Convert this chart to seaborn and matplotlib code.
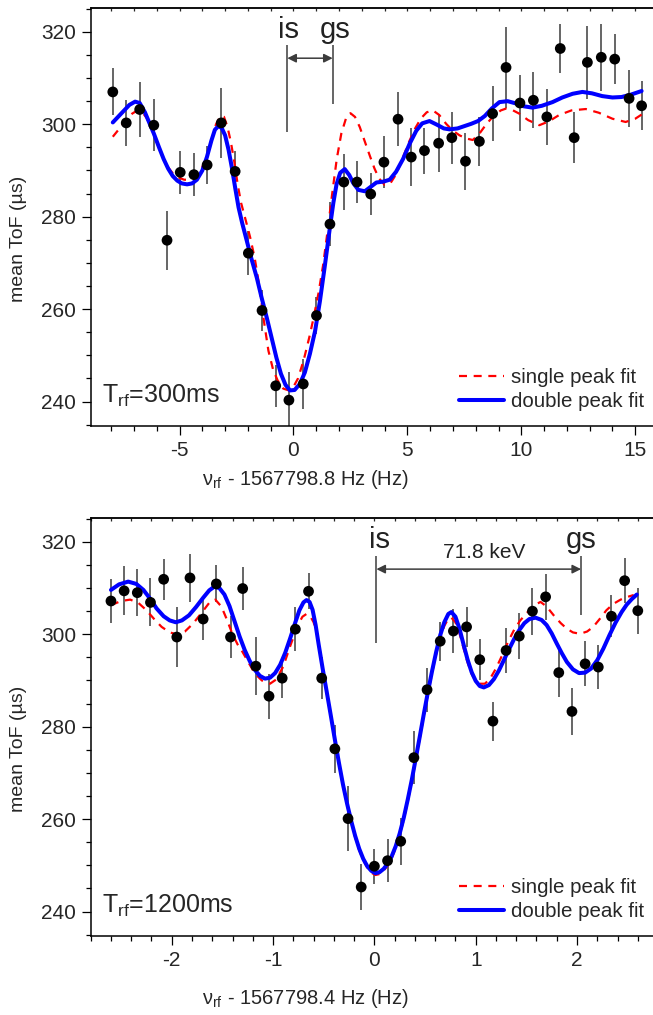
import numpy as np
import pandas as pd
import matplotlib
matplotlib.use("Agg")
import matplotlib.pyplot as plt
from matplotlib.ticker import MultipleLocator
from matplotlib.lines import Line2D
import seaborn as sns

# ---------------- data: top panel (T_rf = 300 ms) ----------------
top_x = [-7.93, -7.34, -6.75, -6.13, -5.55, -4.97, -4.37, -3.79, -3.17, -2.56,
         -1.98, -1.38, -0.78, -0.20, 0.43, 1.01, 1.60, 2.21, 2.79, 3.39,
         3.97, 4.59, 5.17, 5.75, 6.37, 6.95, 7.55, 8.16, 8.74, 9.33,
         9.94, 10.53, 11.12, 11.71, 12.32, 12.90, 13.51, 14.10, 14.73, 15.28]
top_y = [307.0, 300.3, 303.2, 299.8, 274.9, 289.6, 289.1, 291.2, 300.3, 289.8,
         272.1, 259.7, 243.4, 240.3, 243.8, 258.6, 278.4, 287.5, 287.5, 284.9,
         291.8, 301.1, 292.9, 294.3, 295.9, 297.1, 292.0, 296.3, 302.3, 312.3,
         304.6, 305.2, 301.6, 316.4, 297.1, 313.4, 314.5, 314.1, 305.6, 304.0]
top_err = [5.1, 5.0, 5.9, 5.6, 6.4, 4.6, 4.6, 4.2, 7.5, 4.4,
           4.7, 4.5, 4.6, 6.0, 5.4, 4.0, 4.7, 6.0, 4.5, 4.5,
           5.6, 5.8, 6.2, 5.0, 6.3, 5.6, 6.2, 5.3, 5.9, 8.8,
           6.1, 6.1, 6.1, 5.3, 5.5, 7.9, 7.2, 5.4, 6.1, 5.3]

top_double_x = [-7.93, -7.70, -7.45, -7.20, -6.95, -6.75, -6.52, -6.30, -6.13, -5.90,
                -5.70, -5.50, -5.30, -5.10, -4.90, -4.67, -4.45, -4.24, -4.00, -3.80,
                -3.60, -3.45, -3.30, -3.15, -3.00, -2.85, -2.70, -2.55, -2.41, -2.25,
                -2.05, -1.85, -1.61, -1.40, -1.17, -0.95, -0.75, -0.55, -0.35, -0.15,
                0.05, 0.28, 0.50, 0.72, 0.95, 1.16, 1.38, 1.60, 1.75, 1.89,
                2.05, 2.25, 2.45, 2.62, 2.85, 3.13, 3.40, 3.64, 3.95, 4.22,
                4.50, 4.81, 5.10, 5.39, 5.65, 5.97, 6.30, 6.60, 6.85, 7.20,
                7.50, 7.80, 8.10, 8.40, 8.70, 9.04, 9.40, 9.77, 10.10, 10.49,
                10.90, 11.37, 11.80, 12.25, 12.68, 13.10, 13.55, 14.00, 14.40, 14.80,
                15.28]
top_double_y = [300.4, 301.6, 302.9, 304.2, 304.9, 304.6, 302.6, 300.0, 298.0, 295.0,
                292.5, 290.4, 288.8, 287.8, 287.2, 287.0, 287.2, 288.0, 290.0, 292.9,
                296.5, 298.8, 299.6, 299.2, 297.6, 294.5, 290.5, 286.0, 282.0, 278.6,
                274.8, 271.0, 266.8, 262.5, 258.1, 253.6, 249.5, 246.0, 243.6, 242.4,
                242.5, 243.8, 246.3, 250.3, 255.3, 261.7, 269.5, 277.7, 283.0, 287.0,
                289.5, 290.3, 289.0, 287.3, 285.8, 285.5, 286.5, 287.4, 287.6, 288.0,
                289.7, 292.5, 295.8, 298.6, 300.2, 300.7, 299.9, 299.1, 298.9, 299.1,
                299.6, 300.1, 300.7, 301.8, 303.4, 304.8, 305.0, 304.5, 303.9, 303.6,
                304.0, 304.8, 305.8, 306.6, 307.0, 306.7, 306.1, 305.8, 305.9, 306.4,
                307.2]

top_single_x = [-7.93, -7.70, -7.50, -7.28, -7.08, -6.85, -6.65, -6.45, -6.25, -6.05,
                -5.80, -5.55, -5.30, -5.05, -4.80, -4.55, -4.30, -4.05, -3.80, -3.60,
                -3.40, -3.20, -3.05, -2.90, -2.75, -2.60, -2.45, -2.30, -2.10, -1.90,
                -1.70, -1.50, -1.30, -1.10, -0.90, -0.70, -0.45, -0.20, 0.00, 0.20,
                0.45, 0.70, 0.90, 1.10, 1.30, 1.50, 1.70, 1.90, 2.10, 2.30,
                2.50, 2.70, 2.91, 3.15, 3.35, 3.55, 3.75, 4.00, 4.25, 4.52,
                4.80, 5.10, 5.35, 5.60, 5.85, 6.12, 6.40, 6.70, 7.00, 7.29,
                7.60, 7.87, 8.15, 8.46, 8.80, 9.10, 9.33, 9.60, 9.91, 10.30,
                10.79, 11.20, 11.66, 12.20, 12.83, 13.40, 14.00, 14.58, 15.00, 15.28]
top_single_y = [297.3, 298.7, 300.0, 301.3, 302.3, 303.0, 302.7, 301.4, 299.4, 296.8,
                293.6, 291.0, 289.4, 288.5, 288.0, 288.0, 288.6, 290.2, 293.0, 296.5,
                300.0, 301.8, 301.6, 299.5, 296.2, 292.0, 287.0, 283.0, 279.3, 275.5,
                271.0, 265.0, 257.5, 251.0, 247.0, 244.6, 242.8, 242.4, 243.2, 245.0,
                249.0, 254.0, 258.5, 263.5, 269.5, 277.0, 285.0, 292.5, 298.0, 301.2,
                302.4, 301.6, 299.4, 296.0, 293.2, 290.5, 288.3, 286.9, 287.2, 289.3,
                292.8, 296.5, 299.2, 301.3, 302.6, 303.0, 302.0, 300.1, 298.6, 297.6,
                296.9, 296.6, 297.9, 300.0, 301.9, 303.0, 303.4, 303.1, 302.3, 300.9,
                299.8, 300.6, 302.0, 303.0, 303.3, 302.5, 301.2, 300.5, 301.2, 302.1]

# ---------------- data: bottom panel (T_rf = 1200 ms) ----------------
bot_x = [-2.60, -2.47, -2.34, -2.21, -2.08, -1.95, -1.82, -1.69, -1.56, -1.42,
         -1.30, -1.17, -1.04, -0.91, -0.78, -0.65, -0.52, -0.39, -0.26, -0.13,
         0.00, 0.13, 0.26, 0.39, 0.52, 0.65, 0.78, 0.91, 1.04, 1.17,
         1.30, 1.43, 1.56, 1.69, 1.82, 1.95, 2.08, 2.21, 2.34, 2.47, 2.60]
bot_y = [307.2, 309.4, 309.0, 306.9, 311.9, 299.4, 312.2, 303.3, 310.9, 299.4,
         309.9, 293.1, 286.6, 290.5, 301.1, 309.3, 290.5, 275.2, 260.1, 245.3,
         249.8, 251.0, 255.2, 273.3, 288.0, 298.5, 300.7, 301.6, 294.5, 281.2,
         296.5, 299.6, 305.0, 308.1, 291.7, 283.3, 293.6, 292.9, 303.9, 311.6, 305.1]
bot_err = [4.8, 5.3, 5.1, 5.2, 4.4, 6.4, 5.2, 4.6, 4.0, 4.5,
           4.7, 6.3, 4.9, 4.2, 4.8, 3.9, 4.5, 5.2, 7.0, 5.0,
           3.8, 4.7, 5.1, 5.7, 4.8, 4.2, 4.7, 4.4, 4.4, 4.2,
           4.8, 4.9, 5.1, 5.0, 5.3, 5.1, 4.9, 4.8, 4.5, 4.8, 5.0]

bot_double_x = [-2.60, -2.52, -2.43, -2.35, -2.28, -2.21, -2.15, -2.08, -2.02, -1.96,
                -1.90, -1.83, -1.76, -1.69, -1.63, -1.58, -1.53, -1.48, -1.43, -1.38,
                -1.33, -1.28, -1.23, -1.18, -1.13, -1.08, -1.03, -0.98, -0.93, -0.88,
                -0.83, -0.78, -0.74, -0.70, -0.67, -0.64, -0.61, -0.58, -0.55, -0.51,
                -0.47, -0.43, -0.39, -0.35, -0.31, -0.27, -0.23, -0.19, -0.15, -0.11,
                -0.07, -0.03, 0.01, 0.05, 0.09, 0.13, 0.17, 0.21, 0.25, 0.29,
                0.33, 0.37, 0.41, 0.45, 0.49, 0.53, 0.57, 0.61, 0.65, 0.69,
                0.73, 0.76, 0.80, 0.84, 0.88, 0.92, 0.96, 1.00, 1.04, 1.08,
                1.13, 1.18, 1.23, 1.28, 1.33, 1.38, 1.43, 1.48, 1.53, 1.59,
                1.65, 1.70, 1.75, 1.80, 1.85, 1.90, 1.96, 2.02, 2.08, 2.14,
                2.20, 2.26, 2.32, 2.38, 2.44, 2.49, 2.54, 2.59]
bot_double_y = [309.6, 310.8, 311.4, 310.9, 309.6, 307.6, 305.6, 303.9, 303.0, 302.6,
                303.0, 304.1, 305.9, 307.9, 309.5, 310.3, 310.0, 308.6, 306.1, 302.8,
                299.5, 296.6, 294.2, 292.3, 291.0, 290.4, 290.6, 291.6, 293.4, 296.0,
                299.2, 302.6, 305.2, 306.9, 307.4, 307.0, 305.3, 302.0, 297.8, 292.5,
                287.5, 282.4, 277.2, 272.2, 267.5, 263.4, 259.7, 256.4, 253.6, 251.4,
                249.8, 248.8, 248.3, 248.5, 249.2, 250.3, 251.9, 254.1, 256.9, 260.3,
                264.3, 268.6, 273.3, 278.1, 283.0, 287.7, 292.1, 296.2, 299.8, 302.6,
                304.4, 304.8, 303.8, 301.2, 297.8, 294.5, 291.8, 289.9, 288.8, 288.5,
                289.0, 290.3, 292.2, 294.5, 296.8, 299.0, 300.9, 302.4, 303.3, 303.6,
                303.1, 302.0, 300.2, 298.0, 295.9, 294.0, 292.4, 291.6, 291.7, 292.6,
                294.4, 296.9, 299.8, 302.5, 304.8, 306.4, 307.6, 308.6]

bot_single_x = [-2.60, -2.50, -2.41, -2.33, -2.25, -2.17, -2.10, -2.02, -1.95, -1.87,
                -1.79, -1.70, -1.63, -1.57, -1.51, -1.46, -1.40, -1.35, -1.31, -1.24,
                -1.18, -1.11, -1.03, -0.97, -0.90, -0.83, -0.76, -0.71, -0.67, -0.63,
                -0.60, -0.57, -0.54, -0.51, -0.47, -0.43, -0.39, -0.35, -0.31, -0.27,
                -0.23, -0.19, -0.15, -0.11, -0.07, -0.03, 0.01, 0.05, 0.09, 0.13,
                0.17, 0.21, 0.25, 0.29, 0.33, 0.37, 0.41, 0.45, 0.49, 0.53,
                0.57, 0.61, 0.65, 0.69, 0.73, 0.76, 0.80, 0.84, 0.88, 0.92,
                0.96, 1.00, 1.04, 1.09, 1.14, 1.20, 1.26, 1.32, 1.38, 1.44,
                1.50, 1.57, 1.64, 1.70, 1.77, 1.84, 1.90, 1.96, 2.03, 2.10,
                2.16, 2.22, 2.29, 2.36, 2.43, 2.50, 2.56]
bot_single_y = [306.3, 307.2, 307.5, 306.8, 305.2, 303.2, 301.6, 300.4, 300.0, 300.6,
                302.3, 304.8, 306.8, 307.5, 306.0, 303.4, 300.0, 297.8, 296.5, 293.8,
                291.5, 290.0, 289.3, 290.2, 293.0, 297.5, 301.8, 303.8, 304.4, 303.8,
                302.6, 300.5, 296.8, 292.3, 287.3, 282.2, 277.0, 272.0, 267.3, 263.2,
                259.4, 256.1, 253.3, 251.1, 249.5, 248.4, 247.9, 248.1, 248.8, 249.9,
                251.5, 253.7, 256.5, 259.9, 263.9, 268.2, 272.9, 277.7, 282.6, 287.3,
                291.7, 295.7, 299.2, 301.8, 303.4, 303.6, 302.6, 300.2, 297.0, 293.9,
                291.4, 289.9, 289.3, 289.3, 290.3, 292.6, 295.4, 298.4, 301.0, 303.0,
                304.5, 306.2, 307.0, 306.0, 304.1, 302.4, 301.2, 300.4, 300.1, 300.6,
                301.6, 303.2, 305.2, 306.6, 307.5, 308.1, 308.5]

top_xlabel = "ν$_{\\rm rf}$ - 1567798.8 Hz (Hz)"
bot_xlabel = "ν$_{\\rm rf}$ - 1567798.4 Hz (Hz)"
ylabel = "mean ToF (µs)"
top_title = "T$_{\\rm rf}$=300ms"
bot_title = "T$_{\\rm rf}$=1200ms"
legend_labels = ["single peak fit", "double peak fit"]

# ---------------- style ----------------
sns.set_theme(style="ticks")
plt.rcParams["font.family"] = ["Liberation Sans", "DejaVu Sans"]
plt.rcParams["mathtext.fontset"] = "custom"
plt.rcParams["mathtext.rm"] = "Liberation Sans"
plt.rcParams["mathtext.it"] = "Liberation Sans:italic"
plt.rcParams["mathtext.bf"] = "Liberation Sans:bold"
plt.rcParams["axes.unicode_minus"] = False

W, H = 653, 1015
fig = plt.figure(figsize=(W / 100, H / 100), dpi=100)

L = 90.7 / W
axw = 1.0 - L
axh = (426 - 8.3) / H
ax1 = fig.add_axes([L, 1 - 426 / H, axw, axh])
ax2 = fig.add_axes([L, 1 - 936 / H, axw, axh])

GRAY = "#3c3c3c"
TXT = "#222222"


def draw_panel(ax, x, y, err, sx, sy, dx, dy, xlim, xmaj, xmin, xlabel, title, xl_y):
    ax.errorbar(x, y, yerr=err, fmt="none", ecolor=GRAY, elinewidth=1.1, capsize=0, zorder=2)
    sns.lineplot(x=sx, y=sy, ax=ax, color="#ff0000", linewidth=1.6, sort=False,
                 estimator=None, zorder=3)
    ax.lines[-1].set_dashes([3.6, 3.0])
    sns.lineplot(x=dx, y=dy, ax=ax, color="#0000ff", linewidth=2.9, sort=False,
                 estimator=None, zorder=4)
    sns.scatterplot(x=x, y=y, ax=ax, color="black", s=60, edgecolor="none",
                    linewidth=0, zorder=5)
    ax.set_xlim(*xlim)
    ax.set_ylim(234.7, 325.1)
    ax.xaxis.set_major_locator(MultipleLocator(xmaj))
    ax.xaxis.set_minor_locator(MultipleLocator(xmin))
    ax.yaxis.set_major_locator(MultipleLocator(20))
    ax.yaxis.set_minor_locator(MultipleLocator(5))
    ax.tick_params(axis="both", which="major", direction="out", length=6.5, width=0.9,
                   labelsize=15, pad=4, color="black")
    ax.tick_params(axis="both", which="minor", direction="out", length=3.4, width=0.9,
                   color="black")
    ax.spines["right"].set_visible(False)
    for s in ["left", "bottom", "top"]:
        ax.spines[s].set_linewidth(1.1)
        ax.spines[s].set_color("black")
    sec = ax.secondary_xaxis("top")
    sec.xaxis.set_major_locator(MultipleLocator(xmaj))
    sec.xaxis.set_minor_locator(MultipleLocator(xmin))
    sec.tick_params(which="both", direction="in", length=2.5, width=0.9, labeltop=False)
    sec.spines["top"].set_linewidth(1.1)
    ax.set_xlabel(xlabel, fontsize=14.5)
    ax.xaxis.set_label_coords(0.382, xl_y)
    ax.set_ylabel(ylabel, fontsize=14)
    ax.yaxis.set_label_coords(-0.113, 0.448)
    ax.text(0.0196, 0.055, title, transform=ax.transAxes, fontsize=18, va="baseline",
            ha="left")
    handles = [Line2D([], [], color="#ff0000", lw=1.6, dashes=[3.6, 3.0]),
               Line2D([], [], color="#0000ff", lw=2.9)]
    ax.legend(handles, legend_labels, loc="lower left", bbox_to_anchor=(0.655, 0.036),
              frameon=False, fontsize=14.8, borderpad=0, handlelength=2.2,
              handletextpad=0.35, labelspacing=0.25, borderaxespad=0)


draw_panel(ax1, top_x, top_y, top_err, top_single_x, top_single_y, top_double_x,
           top_double_y, (-8.90, 15.78), 5, 1, top_xlabel, top_title, -0.100)
draw_panel(ax2, bot_x, bot_y, bot_err, bot_single_x, bot_single_y, bot_double_x,
           bot_double_y, (-2.80, 2.75), 1, 0.2, bot_xlabel, bot_title, -0.121)

# ---------------- annotations ----------------
arrow_kw = dict(arrowstyle="<|-|>", color=GRAY, lw=1.1, mutation_scale=13,
                shrinkA=0, shrinkB=0)

# top: is / gs
ax1.vlines([-0.27], 298.3, 317.2, color=GRAY, lw=1.1)
ax1.vlines([1.72], 304.3, 317.2, color=GRAY, lw=1.1)
ax1.annotate("", xy=(-0.27, 314.3), xytext=(1.72, 314.3), arrowprops=arrow_kw)
ax1.text(-0.2, 320.3, "is", fontsize=21, ha="center", va="center", color=TXT)
ax1.text(1.85, 320.3, "gs", fontsize=21, ha="center", va="center", color=TXT)

# bottom: is / gs with 71.8 keV
ax2.vlines([0.02], 298.2, 317.0, color=GRAY, lw=1.1)
ax2.vlines([2.04], 304.1, 317.0, color=GRAY, lw=1.1)
ax2.annotate("", xy=(0.02, 314.1), xytext=(2.04, 314.1), arrowprops=arrow_kw)
ax2.text(0.05, 320.4, "is", fontsize=21, ha="center", va="center", color=TXT)
ax2.text(2.04, 320.4, "gs", fontsize=21, ha="center", va="center", color=TXT)
ax2.text(1.08, 315.6, "71.8 keV", fontsize=15, ha="center", va="bottom", color=TXT)

fig.savefig("out.png", dpi=100)
